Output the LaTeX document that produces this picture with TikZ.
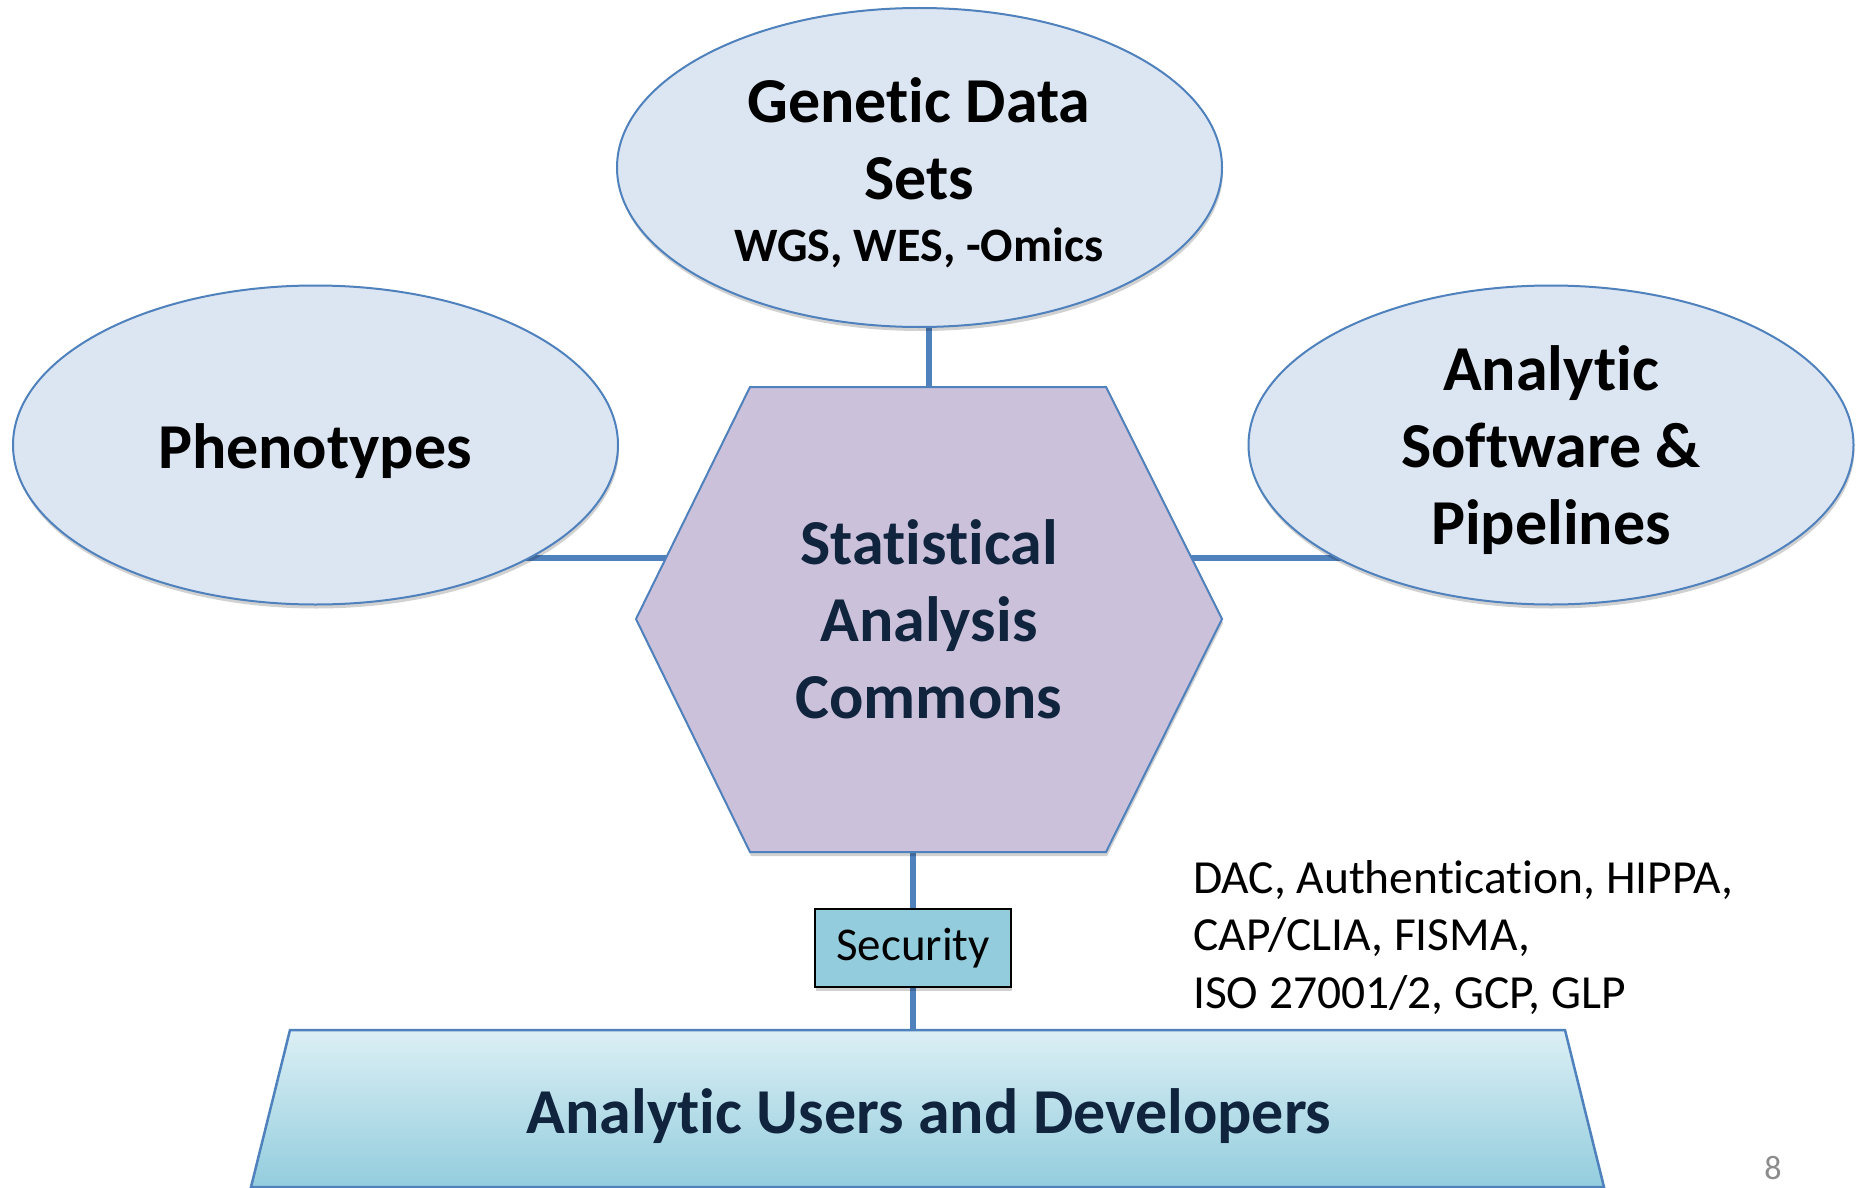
\documentclass[tikz,border=0pt]{standalone}
\usepackage{fontspec}
\setmainfont{Carlito}[Ligatures=NoCommon]
\usetikzlibrary{shapes.geometric,shadows}
\definecolor{edgeblue}{HTML}{4F81BD}
\definecolor{ellfill}{HTML}{DCE6F2}
\definecolor{hexfill}{HTML}{CCC1DA}
\definecolor{navy}{HTML}{10243E}
\definecolor{secfill}{HTML}{93CDDD}
\definecolor{trtop}{HTML}{DCEFF5}
\definecolor{trbot}{HTML}{93CDDD}
\definecolor{pagegray}{HTML}{8C8C8C}
\pgfdeclarelayer{background}
\pgfsetlayers{background,main}
\begin{document}
\begin{tikzpicture}[x=1pt,y=-1pt,
  softshadow/.style={drop shadow={shadow xshift=1pt,shadow yshift=-4pt,opacity=0.18,fill=black}},
  ell/.style={ellipse,draw=edgeblue,line width=2pt,fill=ellfill,minimum width=605pt,minimum height=319pt,inner sep=0pt,softshadow},
  bigtext/.style={inner sep=0pt,align=center,font=\fontsize{64}{77}\selectfont\bfseries},
  conn/.style={draw=edgeblue,line width=5.5pt},
  secbox/.style={rectangle,draw=black,line width=2pt,fill=secfill,minimum width=196pt,minimum height=78pt,inner sep=0pt,font=\fontsize{47}{56}\selectfont,softshadow},
  smalltext/.style={inner sep=0pt,align=left,font=\fontsize{47.5}{57.5}\selectfont}]
\useasboundingbox (0,0) rectangle (1856,1188);

% ellipses
\node[ell] (genE) at (919.5,167.5) {};
\node[ell] (phE) at (315.5,445) {};
\node[ell] (swE) at (1551,445) {};

% hexagon
\path[draw=edgeblue,line width=2pt,fill=hexfill,softshadow]
  (636,619) -- (750,387) -- (1106,387) -- (1222,619) -- (1106,852) -- (750,852) -- cycle;
\coordinate (hexS) at (929,852);

% bottom trapezoid
\path[draw=edgeblue,line width=2.5pt,top color=trtop,bottom color=trbot]
  (290,1030) -- (1565,1030) -- (1604,1187) -- (251,1187) -- cycle;
\coordinate (trapN) at (928,1030);

% texts
\node[bigtext] (gen) at (919,173) {Genetic Data\\Sets\\[-15pt]{\fontsize{48}{57}\selectfont WGS, WES, -Omics}};
\node[bigtext] (ph) at (315,451) {Phenotypes};
\node[bigtext] (sw) at (1551,450) {Analytic\\Software \&\\Pipelines};
\node[bigtext,text=navy] (hex) at (929,619) {Statistical\\Analysis\\Commons};
\node[bigtext,text=navy] (users) at (929,1116) {Analytic Users and Developers};

\node[secbox] (sec) at (913,948) {Security};

\node[smalltext,anchor=north west] (regs) at (1193,860) {DAC, Authentication, HIPPA,\\CAP/CLIA, FISMA,\\ISO 27001/2, GCP, GLP};

\node[inner sep=0pt,text=pagegray,font=\fontsize{34}{40}\selectfont] (pnum) at (1773,1168) {8};

% connectors (behind shapes)
\coordinate (lvl) at (0,558);
\begin{pgfonlayer}{background}
  \fill[white] (0,0) rectangle (1856,1188);
  \draw[conn] (hex.center |- genE.center) -- (hex.center);
  \draw[conn] (phE.center |- lvl) -- (hex.center |- lvl);
  \draw[conn] (hex.center |- lvl) -- (swE.center |- lvl);
  \draw[conn] (sec.center |- hexS) -- (sec.center |- trapN);
\end{pgfonlayer}
\end{tikzpicture}
\end{document}
